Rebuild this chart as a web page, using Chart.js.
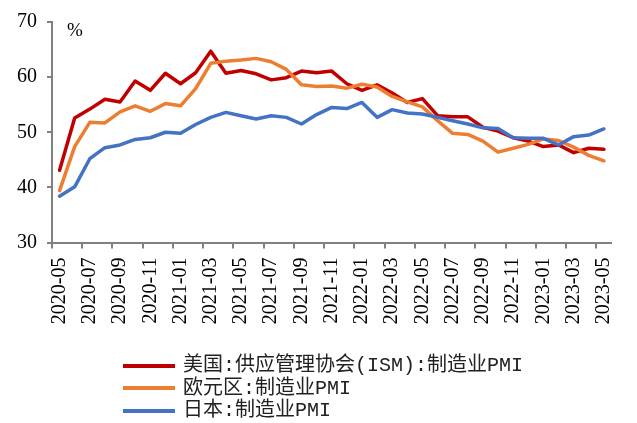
<!DOCTYPE html>
<html>
<head>
<meta charset="utf-8">
<script src="https://cdn.jsdelivr.net/npm/chart.js@4"></script>
<style>
body{margin:0;background:#fff;}
#wrap{position:relative;width:637px;height:423px;}
#pct{position:absolute;left:67px;top:19px;font:19px 'Liberation Serif','Noto Sans CJK SC';color:#000;}
#legend{position:absolute;left:123px;top:355px;font:20px 'Liberation Mono','Noto Sans CJK SC';color:#222;}
#legend div{height:22.5px;line-height:22.5px;white-space:nowrap;}
#legend span.ln{display:inline-block;width:52px;height:4px;vertical-align:middle;margin-right:8px;}
</style>
</head>
<body>
<div id="wrap">
<canvas id="pmichart" width="637" height="423"></canvas>
<div id="pct">%</div>
<div id="legend"></div>
</div>
<script>
var months=["2020-05","2020-06","2020-07","2020-08","2020-09","2020-10","2020-11","2020-12",
"2021-01","2021-02","2021-03","2021-04","2021-05","2021-06","2021-07","2021-08","2021-09","2021-10","2021-11","2021-12",
"2022-01","2022-02","2022-03","2022-04","2022-05","2022-06","2022-07","2022-08","2022-09","2022-10","2022-11","2022-12",
"2023-01","2023-02","2023-03","2023-04","2023-05"];
var usIsm=[43.1,52.6,54.2,56.0,55.5,59.3,57.6,60.7,58.8,60.8,64.7,60.7,61.2,60.6,59.5,59.9,61.1,60.8,61.1,58.8,
57.6,58.6,57.1,55.4,56.1,53.0,52.8,52.8,50.9,50.2,49.0,48.4,47.4,47.7,46.3,47.1,46.9];
var euroArea=[39.4,47.4,51.8,51.7,53.7,54.8,53.8,55.2,54.8,57.9,62.5,62.9,63.1,63.4,62.8,61.4,58.6,58.3,58.4,58.0,
58.7,58.2,56.5,55.5,54.6,52.1,49.8,49.6,48.4,46.4,47.1,47.8,48.8,48.5,47.3,45.8,44.8];
var japan=[38.4,40.1,45.2,47.2,47.7,48.7,49.0,50.0,49.8,51.4,52.7,53.6,53.0,52.4,53.0,52.7,51.5,53.2,54.5,54.3,
55.4,52.7,54.1,53.5,53.3,52.7,52.1,51.5,50.8,50.7,49.0,48.9,48.9,47.7,49.2,49.5,50.6];
var names=["美国:供应管理协会(ISM):制造业PMI","欧元区:制造业PMI","日本:制造业PMI"];
var colors=["#C00000","#ED7D31","#4472C4"];

var axisColor="#808080";
var tickFont={family:"'Liberation Serif','Noto Sans CJK SC'",size:20};

var ctx=document.getElementById("pmichart");
var pmiChart=new Chart(ctx,{
  type:'line',
  data:{
    labels:months,
    datasets:[
      {label:names[0],data:usIsm,borderColor:colors[0],backgroundColor:colors[0],order:3},
      {label:names[1],data:euroArea,borderColor:colors[1],backgroundColor:colors[1],order:2},
      {label:names[2],data:japan,borderColor:colors[2],backgroundColor:colors[2],order:1}
    ]
  },
  options:{
    responsive:false,
    animation:false,
    layout:{padding:{top:19,right:11,bottom:80,left:0}},
    elements:{
      line:{borderWidth:3.5,tension:0,borderCapStyle:'round',borderJoinStyle:'round'},
      point:{radius:0,hoverRadius:0}
    },
    plugins:{legend:{display:false},tooltip:{enabled:false}},
    scales:{
      x:{
        offset:true,
        afterFit:function(s){s.height=100.5;},
        grid:{
          offset:true,
          drawOnChartArea:false,
          drawTicks:true,
          tickLength:6,
          lineWidth:2,
          color:function(c){return c.index%2===0?axisColor:'rgba(0,0,0,0)';}
        },
        border:{display:true,color:axisColor,width:2},
        ticks:{
          autoSkip:false,
          minRotation:90,
          maxRotation:90,
          padding:9,
          color:'#000',
          font:tickFont,
          callback:function(v,i){return i%2===0?months[i]:'';}
        }
      },
      y:{
        min:30,
        max:70,
        afterFit:function(s){s.width=52;},
        grid:{drawOnChartArea:false,drawTicks:true,tickLength:5,lineWidth:2,color:axisColor},
        border:{display:true,color:axisColor,width:2},
        ticks:{stepSize:10,padding:10,color:'#000',font:tickFont}
      }
    }
  }
});

// legend below the plot, one series per row
var leg=document.getElementById("legend");
pmiChart.data.datasets.forEach(function(ds){
  var row=document.createElement("div");
  var ln=document.createElement("span");
  ln.className="ln";
  ln.style.background=ds.borderColor;
  row.appendChild(ln);
  row.appendChild(document.createTextNode(ds.label));
  leg.appendChild(row);
});
</script>
</body>
</html>
